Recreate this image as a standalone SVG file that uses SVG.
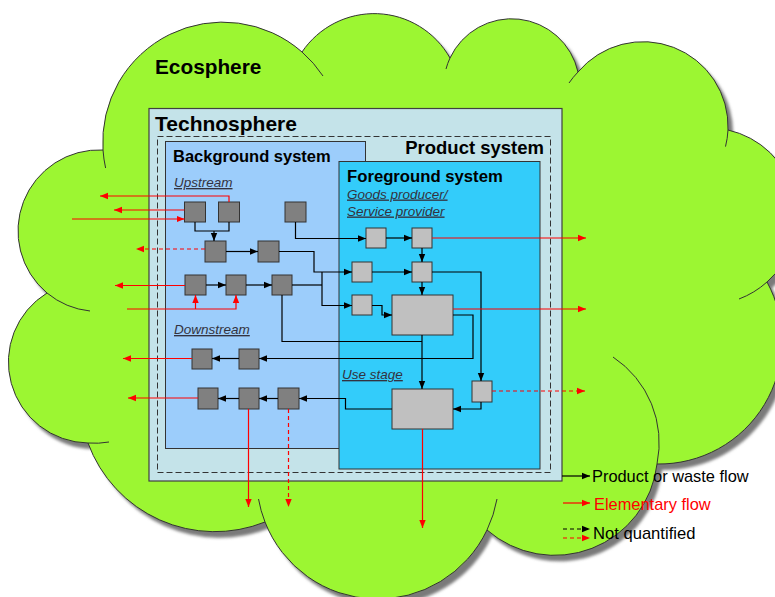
<svg xmlns="http://www.w3.org/2000/svg" width="775" height="597" viewBox="0 0 775 597">
<style>
.t{font-family:"Liberation Sans",Arial,sans-serif;fill:#000}
.b{font-weight:bold}
.u{font-style:italic;text-decoration:underline;fill:#333340;font-size:13.5px}
.bx{fill:#808080;stroke:#333;stroke-width:1}
.fx{fill:#c0c0c0;stroke:#333;stroke-width:1}
.k{fill:none;stroke:#000;stroke-width:1.2}
.r{fill:none;stroke:#ff0000;stroke-width:1.2}
.d{stroke-dasharray:4,3}
.crease{fill:none;stroke:#333;stroke-width:1}
</style>
<defs>
<marker id="ak" viewBox="0 0 8 8" refX="8" refY="4" markerWidth="8" markerHeight="8" markerUnits="userSpaceOnUse" orient="auto"><path d="M0,0.8 L8,4 L0,7.2 z" fill="#000"/></marker>
<marker id="ar" viewBox="0 0 8 8" refX="8" refY="4" markerWidth="8" markerHeight="8" markerUnits="userSpaceOnUse" orient="auto"><path d="M0,0.8 L8,4 L0,7.2 z" fill="#ff0000"/></marker>
<filter id="blur" x="-5%" y="-5%" width="110%" height="110%"><feGaussianBlur stdDeviation="1.5"/></filter>
<path id="cloudPath" d="M103,150 A120,120 0 0 1 302,52 A87,87 0 0 1 450,58 A68,68 0 0 1 578,72 A85,85 0 0 1 728,130 A88,88 0 0 1 767,282 A123,123 0 0 1 657,464 A103,103 0 0 1 487,530 A121,121 0 0 1 265,522 A135,135 0 0 1 88,443 A81,81 0 0 1 47,293 A81,81 0 0 1 103,150 Z"/>
</defs>
<rect x="0" y="0" width="775" height="597" fill="#fff"/>

<g id="ecosphere">
<use href="#cloudPath" transform="translate(5,6)" fill="#7a7a7a" filter="url(#blur)"/>
<use href="#cloudPath" fill="#9cf632" stroke="#333" stroke-width="1"/>
<path class="crease" d="M302,52 A120,120 0 0 1 323,76"/>
<path class="crease" d="M446,69 A68,68 0 0 1 450,58"/>
<path class="crease" d="M569,83 A85,85 0 0 1 578,72"/>
<path class="crease" d="M728,130 A85,85 0 0 1 725.5,146.6"/>
<path class="crease" d="M767,282 A88,88 0 0 1 739,299"/>
<path class="crease" d="M613,357 A103,103 0 0 1 657,464"/>
<path class="crease" d="M497,499 A121,121 0 0 1 487,530"/>
<path class="crease" d="M265,522 A121,121 0 0 1 258.5,499"/>
<path class="crease" d="M109,442 A81,81 0 0 1 88,443"/>
<path class="crease" d="M90,311 A81,81 0 0 1 47,293"/>
<path class="crease" d="M105.6,168 A120,120 0 0 1 103,150"/>
<text class="t b" x="155" y="74" font-size="20.8">Ecosphere</text>
</g>

<g id="technosphere">
<rect x="149" y="108.5" width="413" height="372.5" fill="#c4e3e9" stroke="#404040" stroke-width="1.2"/>
<text class="t b" x="155" y="131" font-size="21">Technosphere</text>
</g>

<g id="product-system">
<rect x="157.5" y="136.5" width="393" height="336" fill="none" stroke="#333" stroke-width="1" stroke-dasharray="6,3"/>
<text class="t b" x="544" y="154" font-size="18.5" text-anchor="end">Product system</text>
</g>

<g id="background-system">
<rect x="165.5" y="141.5" width="200" height="307" fill="#9ccdfb" stroke="#333" stroke-width="1"/>
<text class="t b" x="173" y="162" font-size="16.5">Background system</text>
<text class="t u" x="174" y="187">Upstream</text>
<text class="t u" x="174" y="334">Downstream</text>
</g>

<g id="foreground-system">
<rect x="339" y="161.5" width="201" height="307.5" fill="#33ccfa" stroke="#333" stroke-width="1"/>
<text class="t b" x="347" y="182" font-size="16.7">Foreground system</text>
<text class="t u" x="347" y="198.5">Goods producer/</text>
<text class="t u" x="347" y="215.5">Service provider</text>
<text class="t u" x="342" y="379">Use stage</text>
</g>

<g id="bg-boxes">
<rect id="bgA" class="bx" x="184.5" y="202" width="21" height="20"/>
<rect id="bgB" class="bx" x="218.5" y="202" width="21" height="20"/>
<rect id="bgC" class="bx" x="285" y="202" width="21" height="20"/>
<rect id="bgD" class="bx" x="205" y="241" width="21" height="21"/>
<rect id="bgE" class="bx" x="258" y="241" width="21" height="21"/>
<rect id="bgF" class="bx" x="185" y="275" width="21" height="20"/>
<rect id="bgG" class="bx" x="226" y="275" width="20" height="20"/>
<rect id="bgH" class="bx" x="272" y="275" width="20" height="20"/>
<rect id="ds1" class="bx" x="192" y="349" width="20" height="20"/>
<rect id="ds2" class="bx" x="239" y="349" width="20" height="20"/>
<rect id="ds3" class="bx" x="198" y="388" width="20" height="21"/>
<rect id="ds4" class="bx" x="239" y="388" width="20" height="21"/>
<rect id="ds5" class="bx" x="278" y="388" width="21" height="21"/>
</g>

<g id="fg-boxes">
<rect id="fg1" class="fx" x="366" y="228" width="20" height="20"/>
<rect id="fg1b" class="fx" x="412" y="228" width="20" height="20"/>
<rect id="fg2" class="fx" x="352" y="262" width="20" height="20"/>
<rect id="fg2b" class="fx" x="412" y="262" width="20" height="20"/>
<rect id="fg3" class="fx" x="352" y="295" width="20" height="20"/>
<rect id="fgBig" class="fx" x="392" y="295" width="61" height="40"/>
<rect id="useSmall" class="fx" x="472" y="381" width="20" height="21"/>
<rect id="useBig" class="fx" x="392" y="389" width="61" height="40"/>
</g>

<g id="connectors">
<path class="k" d="M195,222 V231 H229 V222"/>
<path class="k" d="M214,231 V241" marker-end="url(#ak)"/>
<path class="k" d="M226,251.5 H258" marker-end="url(#ak)"/>
<path class="k" d="M279,251.5 H314 V272 H352" marker-end="url(#ak)"/>
<path class="k" d="M292,285 H322"/>
<path class="k" d="M322,272 V305.5 H352" marker-end="url(#ak)"/>
<path class="k" d="M206,285 H226" marker-end="url(#ak)"/>
<path class="k" d="M246,285 H272" marker-end="url(#ak)"/>
<path class="k" d="M282,295 V341.5 H422"/>
<path class="k" d="M295.5,222 V238.5 H366" marker-end="url(#ak)"/>
<path class="k" d="M386,238 H412" marker-end="url(#ak)"/>
<path class="k" d="M422,248 V262" marker-end="url(#ak)"/>
<path class="k" d="M372,272 H412" marker-end="url(#ak)"/>
<path class="k" d="M422,282 V295" marker-end="url(#ak)"/>
<path class="k" d="M372,305.5 H382 V315 H392" marker-end="url(#ak)"/>
<path class="k" d="M453,315 H473 V358.5 H259" marker-end="url(#ak)"/>
<path class="k" d="M239,358.5 H212" marker-end="url(#ak)"/>
<path class="k" d="M432,272 H481 V381" marker-end="url(#ak)"/>
<path class="k" d="M481,402 V409 H453" marker-end="url(#ak)"/>
<path class="k" d="M422,335 V389" marker-end="url(#ak)"/>
<path class="k" d="M392,409 H345.5 V398.5 H299" marker-end="url(#ak)"/>
<path class="k" d="M278,398.5 H259" marker-end="url(#ak)"/>
<path class="k" d="M239,398.5 H218" marker-end="url(#ak)"/>

<path class="r" d="M229,202 V196 H100" marker-end="url(#ar)"/>
<path class="r" d="M184.5,210 H114" marker-end="url(#ar)"/>
<path class="r" d="M72,219 H184.5" marker-end="url(#ar)"/>
<path class="r d" d="M205,249 H136" marker-end="url(#ar)"/>
<path class="r" d="M185,285.5 H115" marker-end="url(#ar)"/>
<path class="r" d="M127,309 H236 V295" marker-end="url(#ar)"/>
<path class="r" d="M195.5,309 V295" marker-end="url(#ar)"/>
<path class="r" d="M432,238 H586" marker-end="url(#ar)"/>
<path class="r" d="M453,309 H586" marker-end="url(#ar)"/>
<path class="r d" d="M492,391 H585" marker-end="url(#ar)"/>
<path class="r" d="M422.5,429 V528" marker-end="url(#ar)"/>
<path class="r" d="M192,358.5 H123" marker-end="url(#ar)"/>
<path class="r" d="M198,398 H128" marker-end="url(#ar)"/>
<path class="r" d="M248.5,409 V507" marker-end="url(#ar)"/>
<path class="r d" d="M288.5,409 V507" marker-end="url(#ar)"/>
</g>

<g id="legend">
<path class="k" d="M562,476 H590" marker-end="url(#ak)"/>
<text class="t" x="592" y="482" font-size="16.4">Product or waste flow</text>
<path class="r" d="M563,503 H590" marker-end="url(#ar)"/>
<text class="t" x="594" y="510" font-size="16.4" style="fill:#ff0000">Elementary flow</text>
<path class="k d" d="M563,529 H590" marker-end="url(#ak)"/>
<path class="r d" d="M563,538 H590" marker-end="url(#ar)"/>
<text class="t" x="593" y="539" font-size="16.6">Not quantified</text>
</g>
</svg>
